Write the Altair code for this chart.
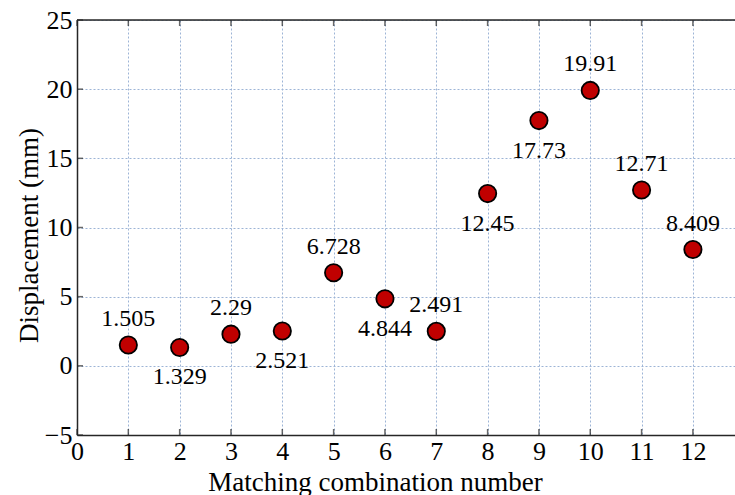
import altair as alt
import pandas as pd

combo = [1, 2, 3, 4, 5, 6, 7, 8, 9, 10, 11, 12]
displacement = [1.505, 1.329, 2.29, 2.521, 6.728, 4.844, 2.491, 12.45, 17.73, 19.91, 12.71, 8.409]
label_side = ["above", "below", "above", "below", "above", "below",
              "above", "below", "below", "above", "above", "above"]
x_ticks = [0, 1, 2, 3, 4, 5, 6, 7, 8, 9, 10, 11, 12]
y_ticks = [-5, 0, 5, 10, 15, 20, 25]
y_top = [25]

df = pd.DataFrame({"combo": combo, "disp": displacement, "side": label_side})
xt = pd.DataFrame({"combo": x_ticks})
yt = pd.DataFrame({"disp": y_ticks})
top = pd.DataFrame({"disp": y_top})

FONT = "Liberation Serif"
GRID = "#9db4d6"
AX = "#262626"

xscale = alt.Scale(domain=[0, 12.82], nice=False, zero=False)
yscale = alt.Scale(domain=[-5, 25], nice=False, zero=False)

xaxis = alt.Axis(values=x_ticks, format="d", grid=True, gridColor=GRID, gridDash=[2, 2],
                 gridWidth=1, gridOpacity=1, ticks=False, domainColor=AX, domainWidth=1.5,
                 labelFont=FONT, labelFontSize=26, labelColor="black", labelPadding=3,
                 labelFlush=False, labelOverlap=False,
                 title="Matching combination number", titleFont=FONT, titleFontSize=27,
                 titleFontWeight="normal", titleColor="black",
                 titleX=298, titleY=55, titleBaseline="alphabetic", titleAnchor="start",
                 titleAlign="center")
yaxis = alt.Axis(values=y_ticks, format="d", grid=True, gridColor=GRID, gridDash=[2, 2],
                 gridWidth=1, gridOpacity=1, ticks=False, domainColor=AX, domainWidth=1.5,
                 labelFont=FONT, labelFontSize=26, labelColor="black", labelPadding=5,
                 labelFlush=False, labelOverlap=False,
                 title="Displacement (mm)", titleFont=FONT, titleFontSize=27,
                 titleFontWeight="normal", titleColor="black",
                 titleX=-40, titleY=215, titleBaseline="alphabetic", titleAlign="center",
                 titleAngle=270)

base = alt.Chart(df)

points = base.mark_point(filled=True, size=300, fill="#c00000", stroke="black",
                         strokeWidth=1.8, opacity=1, shape="circle").encode(
    x=alt.X("combo:Q", scale=xscale, axis=xaxis),
    y=alt.Y("disp:Q", scale=yscale, axis=yaxis),
)

above = base.transform_filter(alt.datum.side == "above").mark_text(
    font=FONT, fontSize=24, color="black", dy=-19, baseline="alphabetic", align="center"
).encode(x="combo:Q", y="disp:Q", text=alt.Text("disp:Q", format=".4~g"))

below = base.transform_filter(alt.datum.side == "below").mark_text(
    font=FONT, fontSize=24, color="black", dy=37, baseline="alphabetic", align="center"
).encode(x="combo:Q", y="disp:Q", text=alt.Text("disp:Q", format=".4~g"))

bottom_ticks = alt.Chart(xt).mark_tick(orient="vertical", size=6, thickness=1.5,
                                       color=AX, yOffset=-3).encode(
    x="combo:Q", y=alt.datum(-5))
top_ticks = alt.Chart(xt).mark_tick(orient="vertical", size=6, thickness=1.5,
                                    color=AX, yOffset=3).encode(
    x="combo:Q", y=alt.datum(25))
left_ticks = alt.Chart(yt).mark_tick(orient="horizontal", size=6, thickness=1.5,
                                     color=AX, xOffset=3).encode(
    y="disp:Q", x=alt.datum(0))
top_line = alt.Chart(top).mark_rule(color=AX, strokeWidth=1.5).encode(y="disp:Q")

chart = alt.layer(points, top_line, bottom_ticks, top_ticks, left_ticks, above, below).properties(
    width=658, height=415,
    autosize=alt.AutoSizeParams(type="none"),
    padding={"left": 77, "top": 20, "right": 0, "bottom": 60},
).configure_view(stroke=None).configure(
    background="white", font=FONT
).configure_axis(labelFont=FONT, titleFont=FONT).configure_text(font=FONT)

chart.save("out.html", embed_options={"renderer": "svg", "actions": False})
